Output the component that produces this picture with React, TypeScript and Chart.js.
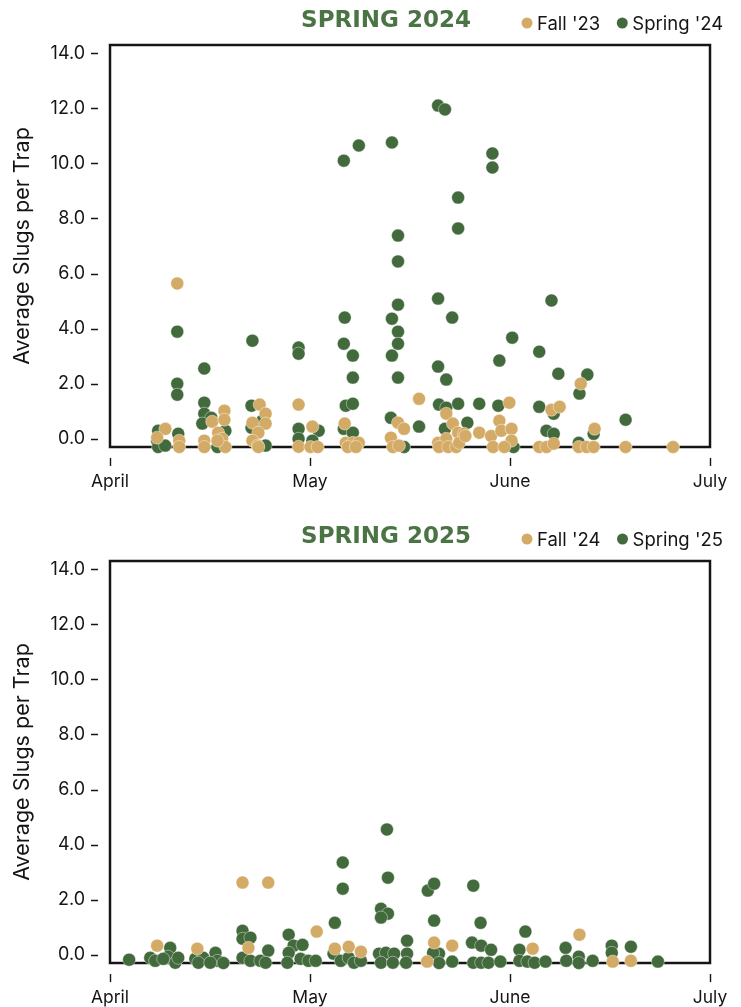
import React, { useEffect, useRef } from "react";
import { Chart, registerables } from "chart.js";

Chart.register(...registerables);

type Pt = [number, number];

// x = days after April 1, y = average slugs per trap
const MONTH_LABELS = ["April", "May", "June", "July"];
const MONTH_TICKS = [0, 30.33, 60.67, 91];
const Y_TICKS = [0, 2, 4, 6, 8, 10, 12, 14];

const FALL_23: Pt[] = [
  [8.4, 0.36], [7.15, 0.04],
  [10.2, 5.64], [10.5, -0.07], [10.5, -0.3],
  [15.5, 0.62], [17.35, 1.02], [17.35, 0.69], [16.4, 0.22], [14.3, -0.07], [17.0, 0.0], [17.5, -0.3], [16.3, -0.07], [14.3, -0.3],
  [22.7, 1.24], [23.6, 0.91], [21.6, 0.58], [23.6, 0.55], [22.5, 0.22], [21.6, -0.07], [22.4, -0.25], [22.5, -0.3],
  [28.6, 1.24], [28.6, -0.29], [30.7, 0.44], [30.4, -0.3], [31.5, -0.3],
  [35.6, 0.55], [35.76, -0.15], [36.83, -0.15], [37.74, -0.15], [36.07, -0.3], [37.3, -0.3],
  [43.68, 0.58], [44.6, 0.36], [42.6, 0.04], [42.9, -0.3], [43.83, -0.25],
  [46.87, 1.45],
  [51.0, 0.91], [52.0, 0.55], [52.8, 0.22], [53.7, 0.18], [49.76, -0.15], [51.0, 0.0], [49.9, -0.3], [51.3, -0.3], [52.5, -0.3], [52.96, -0.15], [53.9, 0.1],
  [56.0, 0.22],
  [60.57, 1.31], [59.05, 0.65], [57.8, 0.1], [59.35, 0.29], [60.9, 0.36], [60.9, -0.07], [58.1, -0.3], [59.8, -0.3],
  [66.96, 1.05], [68.2, 1.16], [65.1, -0.3], [66.2, -0.3], [67.3, -0.18],
  [71.4, 2.0], [73.5, 0.36], [71.1, -0.3], [72.3, -0.3], [73.35, -0.3],
  [78.2, -0.3], [85.4, -0.3],
];

const SPRING_24: Pt[] = [
  [7.3, 0.29], [7.15, -0.07], [7.3, -0.3], [8.37, -0.25],
  [10.2, 2.0], [10.2, 1.6], [10.35, 0.18], [10.2, 3.89],
  [14.3, 2.55], [14.3, 1.31], [14.3, 0.91], [15.37, 0.76], [17.5, 0.29], [14.0, 0.55], [16.3, -0.3],
  [21.46, 1.2], [23.1, 0.65], [21.46, 0.4], [23.6, -0.25], [21.6, 3.56],
  [28.6, 0.36], [28.6, 0.0], [31.65, 0.29], [30.7, -0.07], [28.6, 3.31], [28.6, 3.09],
  [35.76, 1.2], [36.83, 1.27], [35.46, 0.36], [36.83, 0.22], [35.46, 10.1], [37.74, 10.65], [35.6, 4.4], [35.46, 3.45], [36.83, 3.02], [36.83, 2.22],
  [42.6, 0.76], [44.6, -0.3], [42.76, 10.76], [43.68, 7.38], [43.68, 6.44], [43.68, 4.87], [42.76, 4.36], [43.68, 3.89], [43.68, 3.45], [42.76, 3.02], [43.68, 2.22],
  [46.87, 0.44],
  [49.76, 12.1], [50.8, 11.96], [52.8, 8.76], [52.8, 7.64], [49.76, 5.09], [51.9, 4.4], [49.76, 2.62], [51.0, 2.15], [49.9, 1.24], [51.0, 1.13], [52.8, 1.27], [50.8, 0.36], [54.2, 0.58],
  [56.0, 1.27], [58.0, 10.36], [58.0, 9.85],
  [58.9, 1.2], [59.05, 2.84], [61.0, 3.67], [61.2, -0.3],
  [65.1, 1.16], [67.3, 0.91], [66.2, 0.29], [67.3, 0.18], [65.1, 3.16], [66.96, 5.02], [68.0, 2.36],
  [71.2, 1.64], [73.35, 0.18], [71.1, -0.15], [72.4, 2.33],
  [78.2, 0.69],
];

const FALL_24: Pt[] = [
  [7.15, 0.33], [13.24, 0.22], [21.0, 0.25], [20.1, 2.62], [24.0, 2.62], [31.35, 0.84],
  [34.1, 0.22], [36.2, 0.29], [38.05, 0.11], [49.16, 0.44], [48.1, -0.25], [51.9, 0.33],
  [64.1, 0.22], [71.2, 0.73], [76.25, -0.25], [79.0, -0.22],
];

const SPRING_25: Pt[] = [
  [2.9, -0.18],
  [6.1, -0.11], [6.85, -0.22], [9.13, 0.25], [8.83, -0.07], [9.9, -0.29], [10.35, -0.11], [8.07, -0.15],
  [12.94, -0.15], [14.15, -0.11], [13.4, -0.29], [16.0, 0.07], [16.3, -0.22], [17.2, -0.3], [15.2, -0.29],
  [20.1, 0.87], [20.1, 0.58], [21.3, 0.62], [20.1, -0.11], [21.3, -0.22], [22.8, -0.22], [24.0, 0.15], [23.6, -0.29],
  [27.1, 0.73], [27.85, 0.33], [29.2, 0.36], [27.1, 0.07], [26.9, -0.29], [28.9, -0.15], [30.1, -0.22], [31.2, -0.22],
  [34.1, 1.16], [35.3, 3.35], [35.3, 2.4], [33.9, 0.04], [35.0, -0.22], [36.2, -0.11], [37.0, -0.29], [38.05, -0.22],
  [41.1, 1.67], [42.15, 1.49], [41.1, 1.35], [42.15, 2.8], [42.0, 4.55], [40.8, 0.04], [41.85, 0.07], [43.1, 0.04], [41.1, -0.29], [42.9, -0.29], [45.05, 0.51], [45.05, 0.04], [44.9, -0.29],
  [48.2, 2.33], [49.16, 2.58], [49.16, 1.24], [49.9, 0.04], [49.0, 0.07], [49.9, -0.3], [51.9, -0.25],
  [55.1, 2.51], [56.2, 1.16], [54.9, 0.44], [56.3, 0.33], [57.8, 0.18], [55.1, -0.29], [56.3, -0.29], [57.4, -0.29], [59.2, -0.25],
  [63.0, 0.84], [62.1, 0.18], [62.1, -0.22], [63.3, -0.25], [64.4, -0.29], [66.05, -0.25],
  [69.1, 0.25], [69.2, -0.22], [71.1, -0.07], [71.1, -0.3], [73.2, -0.22],
  [76.1, 0.33], [76.1, 0.07], [79.0, 0.29],
  [83.1, -0.25],
];

const GREEN = "#426a3c";
const TITLE_GREEN = "#4a7444";
const TAN = "#d4ab66";
const INK = "#151515";
const FONT = "Inter, 'Noto Sans', sans-serif";

const W = 741;
const H = 491;

// Box around the plot area plus the detached tick marks
const framePlugin = {
  id: "frame",
  beforeDatasetsDraw(chart: any) {
    const { ctx, chartArea: a, scales } = chart;
    ctx.save();
    ctx.strokeStyle = INK;
    ctx.lineWidth = 2.5;
    ctx.strokeRect(a.left, a.top, a.right - a.left, a.bottom - a.top);
    ctx.lineWidth = 1.4;
    ctx.beginPath();
    for (const v of Y_TICKS) {
      const y = Math.round(scales.y.getPixelForValue(v)) + 0.5;
      ctx.moveTo(a.left - 19, y);
      ctx.lineTo(a.left - 12, y);
    }
    for (const v of MONTH_TICKS) {
      const x = Math.round(scales.x.getPixelForValue(v)) + 0.5;
      ctx.moveTo(x, a.bottom + 11);
      ctx.lineTo(x, a.bottom + 19);
    }
    ctx.stroke();
    ctx.restore();
  },
};

// Heading and legend row above the plot
const headerPlugin = {
  id: "header",
  afterDraw(chart: any, _args: any, opts: any) {
    const { ctx } = chart;
    ctx.save();
    ctx.font = "bold 23px 'DejaVu Sans', sans-serif";
    ctx.fillStyle = TITLE_GREEN;
    ctx.textAlign = "center";
    ctx.textBaseline = "middle";
    ctx.fillText(opts.title, 386, 21);

    ctx.font = `18.5px ${FONT}`;
    ctx.textAlign = "left";
    let cx = 527;
    const y = 23;
    for (const ds of chart.data.datasets) {
      ctx.fillStyle = ds.backgroundColor;
      ctx.beginPath();
      ctx.arc(cx, y, 5.5, 0, Math.PI * 2);
      ctx.fill();
      ctx.fillStyle = INK;
      ctx.fillText(ds.label, cx + 10, y + 1);
      cx += 10 + ctx.measureText(ds.label).width + 22;
    }
    ctx.restore();
  },
};

type PanelProps = {
  title: string;
  fallLabel: string;
  springLabel: string;
  fall: Pt[];
  spring: Pt[];
  top: number;
};

function ScatterPanel({ title, fallLabel, springLabel, fall, spring, top }: PanelProps) {
  const ref = useRef<HTMLCanvasElement>(null);

  useEffect(() => {
    const canvas = ref.current;
    if (!canvas) return;
    const pointStyle = {
      pointRadius: 6.5,
      pointHoverRadius: 6.5,
      borderWidth: 0.6,
      borderColor: "rgba(255,255,255,0.7)",
      clip: false as any,
    };
    const chart = new Chart(canvas, {
      type: "scatter",
      data: {
        datasets: [
          {
            label: fallLabel,
            data: fall.map(([x, y]) => ({ x, y })),
            backgroundColor: TAN,
            ...pointStyle,
          },
          {
            label: springLabel,
            data: spring.map(([x, y]) => ({ x, y })),
            backgroundColor: GREEN,
            ...pointStyle,
          },
        ],
      },
      plugins: [framePlugin, headerPlugin],
      options: {
        responsive: false,
        animation: false,
        devicePixelRatio: 1,
        events: [],
        layout: { padding: { top: 45, right: 31, left: 0, bottom: 0 } },
        plugins: {
          legend: { display: false },
          tooltip: { enabled: false },
          header: { title },
        } as any,
        scales: {
          x: {
            type: "linear",
            min: 0,
            max: 91,
            grid: { display: false, drawTicks: false },
            border: { display: false },
            afterBuildTicks: (scale: any) => {
              scale.ticks = MONTH_TICKS.map((value) => ({ value }));
            },
            afterFit: (scale: any) => {
              scale.height = 44;
              scale.paddingLeft = 0;
              scale.paddingRight = 0;
            },
            ticks: {
              autoSkip: false,
              maxRotation: 0,
              padding: 24,
              color: INK,
              font: { family: FONT, size: 17.5 },
              callback: (_v: any, i: number) => MONTH_LABELS[i],
            },
          },
          y: {
            type: "linear",
            min: -0.3,
            max: 14.3,
            grid: { display: false, drawTicks: false },
            border: { display: false },
            afterBuildTicks: (scale: any) => {
              scale.ticks = Y_TICKS.map((value) => ({ value }));
            },
            afterFit: (scale: any) => {
              scale.width = 110;
              scale.paddingTop = 0;
              scale.paddingBottom = 0;
            },
            ticks: {
              padding: 25,
              color: INK,
              font: { family: FONT, size: 18 },
              callback: (v: any) => Number(v).toFixed(1),
            },
            title: {
              display: true,
              text: "Average Slugs per Trap",
              color: INK,
              font: { family: FONT, size: 21.5 },
              padding: { top: 10, bottom: 0 },
            },
          },
        },
      },
    });
    return () => chart.destroy();
  }, [title, fallLabel, springLabel, fall, spring]);

  return (
    <canvas
      ref={ref}
      width={W}
      height={H}
      style={{ position: "absolute", left: 0, top, width: W, height: H, display: "block" }}
    />
  );
}

export default function App() {
  return (
    <div style={{ position: "absolute", left: 0, top: 0, width: W, height: 1007, background: "#fff" }}>
      <ScatterPanel
        title="SPRING 2024"
        fallLabel="Fall '23"
        springLabel="Spring '24"
        fall={FALL_23}
        spring={SPRING_24}
        top={0}
      />
      <ScatterPanel
        title="SPRING 2025"
        fallLabel="Fall '24"
        springLabel="Spring '25"
        fall={FALL_24}
        spring={SPRING_25}
        top={516}
      />
    </div>
  );
}
